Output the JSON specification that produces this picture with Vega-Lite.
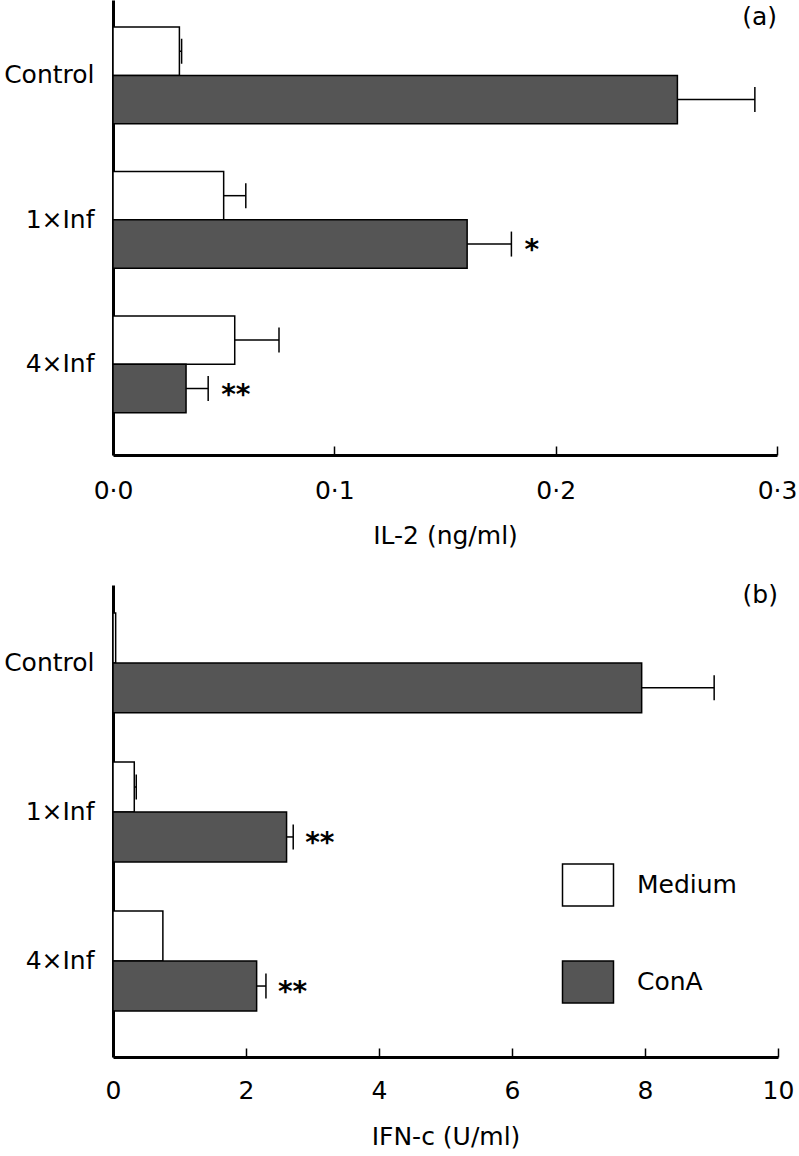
{
  "$schema": "https://vega.github.io/schema/vega-lite/v6.json",
  "padding": {"left": 3, "top": 0, "right": 0, "bottom": 0},
  "background": "white",
  "config": {
    "font": "DejaVu Sans",
    "view": {"stroke": null},
    "axis": {"labelFont": "DejaVu Sans", "titleFont": "DejaVu Sans", "labelColor": "black", "titleColor": "black", "domainColor": "black", "tickColor": "black", "grid": false, "labelFontSize": 25, "titleFontSize": 25, "titleFontWeight": "normal"},
    "legend": {"padding": 0},
    "concat": {"spacing": 34}
  },
  "datasets": {
    "il2": [
      {"group": "Control", "treat": "Medium", "mean": 0.030, "upper": 0.031, "sig": ""},
      {"group": "Control", "treat": "ConA", "mean": 0.255, "upper": 0.290, "sig": ""},
      {"group": "1×Inf", "treat": "Medium", "mean": 0.050, "upper": 0.060, "sig": ""},
      {"group": "1×Inf", "treat": "ConA", "mean": 0.160, "upper": 0.180, "sig": "*"},
      {"group": "4×Inf", "treat": "Medium", "mean": 0.055, "upper": 0.075, "sig": ""},
      {"group": "4×Inf", "treat": "ConA", "mean": 0.033, "upper": 0.043, "sig": "**"}
    ],
    "ifn": [
      {"group": "Control", "treat": "Medium", "mean": 0.04, "upper": null, "sig": ""},
      {"group": "Control", "treat": "ConA", "mean": 7.95, "upper": 9.04, "sig": ""},
      {"group": "1×Inf", "treat": "Medium", "mean": 0.32, "upper": 0.35, "sig": ""},
      {"group": "1×Inf", "treat": "ConA", "mean": 2.61, "upper": 2.71, "sig": "**"},
      {"group": "4×Inf", "treat": "Medium", "mean": 0.75, "upper": null, "sig": ""},
      {"group": "4×Inf", "treat": "ConA", "mean": 2.16, "upper": 2.30, "sig": "**"}
    ]
  },
  "resolve": {"scale": {"x": "independent", "y": "independent", "fill": "independent", "yOffset": "independent"}, "legend": {"fill": "independent"}},
  "vconcat": [
    {
      "width": 664,
      "height": 455,
      "data": {"name": "il2"},
      "encoding": {
        "y": {"field": "group", "type": "nominal", "sort": ["Control", "1×Inf", "4×Inf"], "scale": {"paddingInner": 0.33, "paddingOuter": 0.24, "align": 0.39}, "axis": {"title": null, "ticks": false, "domainWidth": 3, "labelPadding": 19}},
        "yOffset": {"field": "treat", "type": "nominal", "sort": ["Medium", "ConA"], "scale": {"paddingInner": 0, "paddingOuter": 0}}
      },
      "layer": [
        {
          "mark": {"type": "bar", "stroke": "black", "strokeWidth": 1.5, "orient": "horizontal", "opacity": 1},
          "encoding": {
            "x": {"field": "mean", "type": "quantitative", "scale": {"domain": [0, 0.3], "nice": false}, "axis": {"title": "IL-2 (ng/ml)", "values": [0, 0.1, 0.2, 0.3], "format": ".1f", "labelExpr": "replace(datum.label, '.', '·')", "domainWidth": 3, "tickSize": -9, "tickWidth": 1.5, "labelPadding": 32, "titlePadding": 20, "labelFlush": false, "labelOverlap": false}},
            "fill": {"field": "treat", "type": "nominal", "scale": {"domain": ["Medium", "ConA"], "range": ["white", "#555555"]}, "legend": null}
          }
        },
        {
          "transform": [{"filter": "isValid(datum.upper)"}],
          "mark": {"type": "rule", "strokeWidth": 1.5, "color": "black"},
          "encoding": {"x": {"field": "mean", "type": "quantitative"}, "x2": {"field": "upper"}}
        },
        {
          "transform": [{"filter": "isValid(datum.upper)"}],
          "mark": {"type": "tick", "size": 25, "thickness": 1.5, "color": "black", "orient": "vertical", "opacity": 1},
          "encoding": {"x": {"field": "upper", "type": "quantitative"}}
        },
        {
          "transform": [{"filter": "datum.sig != ''"}],
          "mark": {"type": "text", "align": "left", "baseline": "middle", "dx": 13, "dy": 7, "fontSize": 28, "fontWeight": "bold", "color": "black"},
          "encoding": {"x": {"field": "upper", "type": "quantitative"}, "text": {"field": "sig"}}
        },
        {
          "data": {"values": [{"label": "(a)"}]},
          "mark": {"type": "text", "align": "right", "baseline": "alphabetic", "dy": -26, "fontSize": 25, "color": "black"},
          "encoding": {"x": {"datum": 0.3, "type": "quantitative"}, "y": {"datum": "Control"}, "yOffset": {"datum": "Medium"}, "text": {"field": "label"}}
        }
      ]
    },
    {
      "width": 665,
      "height": 472,
      "data": {"name": "ifn"},
      "encoding": {
        "y": {"field": "group", "type": "nominal", "sort": ["Control", "1×Inf", "4×Inf"], "scale": {"paddingInner": 0.33, "paddingOuter": 0.248, "align": 0.378}, "axis": {"title": null, "ticks": false, "domainWidth": 3, "labelPadding": 19}},
        "yOffset": {"field": "treat", "type": "nominal", "sort": ["Medium", "ConA"], "scale": {"paddingInner": 0, "paddingOuter": 0}}
      },
      "layer": [
        {
          "mark": {"type": "bar", "stroke": "black", "strokeWidth": 1.5, "orient": "horizontal", "opacity": 1},
          "encoding": {
            "x": {"field": "mean", "type": "quantitative", "scale": {"domain": [0, 10], "nice": false}, "axis": {"title": "IFN-c (U/ml)", "values": [0, 2, 4, 6, 8, 10], "format": "d", "domainWidth": 3, "tickSize": -9, "tickWidth": 1.5, "labelPadding": 30, "titlePadding": 21, "labelFlush": false, "labelOverlap": false}},
            "fill": {"field": "treat", "type": "nominal", "scale": {"domain": ["Medium", "ConA"], "range": ["white", "#555555"]}, "legend": {"orient": "none", "legendX": 453, "legendY": 278, "title": null, "symbolType": "M-1.214,-1H1.214V1H-1.214Z", "symbolSize": 1764, "symbolStrokeColor": "black", "symbolStrokeWidth": 1.5, "symbolOpacity": 1, "labelFontSize": 25, "labelFont": "DejaVu Sans", "labelColor": "black", "labelOffset": 27, "rowPadding": 49}}
          }
        },
        {
          "transform": [{"filter": "isValid(datum.upper)"}],
          "mark": {"type": "rule", "strokeWidth": 1.5, "color": "black"},
          "encoding": {"x": {"field": "mean", "type": "quantitative"}, "x2": {"field": "upper"}}
        },
        {
          "transform": [{"filter": "isValid(datum.upper)"}],
          "mark": {"type": "tick", "size": 25, "thickness": 1.5, "color": "black", "orient": "vertical", "opacity": 1},
          "encoding": {"x": {"field": "upper", "type": "quantitative"}}
        },
        {
          "transform": [{"filter": "datum.sig != ''"}],
          "mark": {"type": "text", "align": "left", "baseline": "middle", "dx": 12, "dy": 7, "fontSize": 28, "fontWeight": "bold", "color": "black"},
          "encoding": {"x": {"field": "upper", "type": "quantitative"}, "text": {"field": "sig"}}
        },
        {
          "data": {"values": [{"label": "(b)"}]},
          "mark": {"type": "text", "align": "right", "baseline": "alphabetic", "dy": -35, "fontSize": 25, "color": "black"},
          "encoding": {"x": {"datum": 10, "type": "quantitative"}, "y": {"datum": "Control"}, "yOffset": {"datum": "Medium"}, "text": {"field": "label"}}
        }
      ]
    }
  ]
}
